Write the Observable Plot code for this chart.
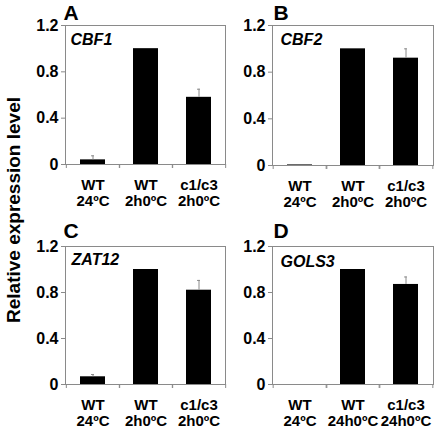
<!DOCTYPE html>
<html><head><meta charset="utf-8">
<script src="https://cdn.jsdelivr.net/npm/d3@7"></script>
<script src="https://cdn.jsdelivr.net/npm/@observablehq/plot@0.6"></script>
<style>
body{margin:0;background:#fff;}
#fig{position:relative;width:442px;height:429px;font-family:"Liberation Sans",Arial,sans-serif;overflow:hidden;}
.panel{position:absolute;}
#ylab{position:absolute;left:0;top:0;}
</style></head><body><div id="fig">
<svg id="ylab" width="30" height="429"><text transform="translate(20,210) rotate(-90)" text-anchor="middle" font-family="'Liberation Sans', Arial, sans-serif" font-weight="bold" font-size="19">Relative expression level</text></svg>
</div>
<script>
// tick labels
const labelsABC = ["WT\n24ºC", "WT\n2h0ºC", "c1/c3\n2h0ºC"];
const labelsD = ["WT\n24ºC", "WT\n24h0ºC", "c1/c3\n24h0ºC"];
const yTicks = [0, 0.4, 0.8, 1.2];
const panelLetters = ["A", "B", "C", "D"];
const genes = ["CBF1", "CBF2", "ZAT12", "GOLS3"];
// values (mean) and error (upper SD)
const cbf1Values = [0.04, 1.0, 0.58];
const cbf1Errors = [0.035, 0.0, 0.07];
const cbf2Values = [0.005, 1.0, 0.92];
const cbf2Errors = [0.0, 0.0, 0.08];
const zat12Values = [0.067, 1.0, 0.82];
const zat12Errors = [0.02, 0.0, 0.085];
const gols3Values = [0.0, 1.0, 0.87];
const gols3Errors = [0.0, 0.0, 0.065];

const panels = [
  {letter: panelLetters[0], gene: genes[0], labels: labelsABC, values: cbf1Values, errors: cbf1Errors,
   left: 0, top: 0, width: 229, height: 214, ml: 65, mr: 4, mt: 25, mb: 50, ldx: -2, ldy: -6, gdx: 5, gdy: 8},
  {letter: panelLetters[1], gene: genes[1], labels: labelsABC, values: cbf2Values, errors: cbf2Errors,
   left: 229, top: 0, width: 213, height: 214, ml: 43, mr: 9, mt: 25, mb: 49, ldx: 1, ldy: -6, gdx: 8, gdy: 8},
  {letter: panelLetters[2], gene: genes[2], labels: labelsABC, values: zat12Values, errors: zat12Errors,
   left: 0, top: 214, width: 229, height: 215, ml: 65, mr: 4, mt: 32, mb: 45, ldx: -2, ldy: -9, gdx: 6, gdy: 7},
  {letter: panelLetters[3], gene: genes[3], labels: labelsD, values: gols3Values, errors: gols3Errors,
   left: 229, top: 214, width: 213, height: 215, ml: 43, mr: 9, mt: 32, mb: 45, ldx: 1, ldy: -9, gdx: 8, gdy: 9}
];

const gray = "#8a8a8a";
const padIn = 0.53;
const fig = document.getElementById("fig");

for (const p of panels) {
  const data = p.labels.map((x, i) => ({x, v: p.values[i], e: p.errors[i]}));
  const step = (p.width - p.ml - p.mr) / p.labels.length;
  const bw = step * (1 - padIn);
  const chart = Plot.plot({
    width: p.width, height: p.height,
    marginLeft: p.ml, marginRight: p.mr, marginTop: p.mt, marginBottom: p.mb,
    style: {fontFamily: "'Liberation Sans', Arial, sans-serif", fontWeight: "bold", fontSize: "16px", color: "black", background: "transparent", overflow: "visible"},
    x: {type: "band", domain: p.labels, paddingInner: padIn, paddingOuter: padIn / 2, label: null},
    y: {domain: [0, 1.2], label: null},
    marks: [
      Plot.barY(data, {x: "x", y: "v", fill: "black"}),
      Plot.ruleX(data.filter(d => d.e > 0), {x: "x", y1: "v", y2: d => d.v + d.e, stroke: gray, strokeWidth: 1}),
      Plot.tickY(data.filter(d => d.e > 0), {x: "x", y: d => d.v + d.e, stroke: gray, strokeWidth: 1, insetLeft: (bw - 3) / 2, insetRight: (bw - 3) / 2}),
      Plot.frame({stroke: gray}),
      Plot.axisY({ticks: yTicks, tickFormat: d => d === 0 ? "0" : d.toFixed(1), tickSize: 4, tickPadding: 3, fontSize: 16, stroke: gray}),
      Plot.axisX({tickSize: 4, tickFormat: () => "", dx: -step / 2, stroke: gray}),
      Plot.axisX({tickSize: 4, tickFormat: () => "", dx: step / 2, stroke: gray}),
      Plot.axisX({tickSize: 0, tickPadding: 13, fontSize: 15, lineHeight: 1.13}),
      Plot.text([p.letter], {frameAnchor: "top-left", text: d => d, dx: p.ldx, dy: p.ldy, lineAnchor: "bottom", textAnchor: "start", fontSize: 21}),
      Plot.text([p.gene], {frameAnchor: "top-left", text: d => d, dx: p.gdx, dy: p.gdy, lineAnchor: "top", textAnchor: "start", fontSize: 16, fontStyle: "italic"})
    ]
  });
  chart.classList.add("panel");
  chart.style.left = p.left + "px";
  chart.style.top = p.top + "px";
  fig.appendChild(chart);
}
</script></body></html>
